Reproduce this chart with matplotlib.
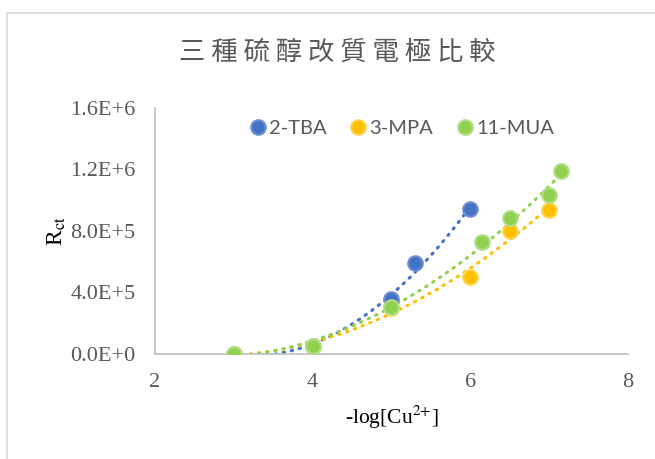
import numpy as np
import matplotlib
matplotlib.use("Agg")
import matplotlib.pyplot as plt
from matplotlib.lines import Line2D
from matplotlib.patches import Rectangle

# data
tba_x = [3, 4, 5, 5.3, 6]
tba_y = [0, 0.05e6, 0.355e6, 0.59e6, 0.94e6]
mpa_x = [3, 4, 5, 6, 6.5, 7]
mpa_y = [0, 0.05e6, 0.30e6, 0.503e6, 0.80e6, 0.937e6]
mua_x = [3, 4, 5, 6.15, 6.5, 7, 7.15]
mua_y = [0, 0.052e6, 0.304e6, 0.727e6, 0.883e6, 1.034e6, 1.19e6]
series_names = ["2-TBA", "3-MPA", "11-MUA"]
colors = ["#4472C4", "#FFC000", "#92D050"]
edge_colors = ["#6F8FD0", "#FFD34D", "#B0DE85"]
x_ticks = [2, 4, 6, 8]
y_ticks = [0, 0.4e6, 0.8e6, 1.2e6, 1.6e6]
y_tick_labels = ["0.0E+0", "4.0E+5", "8.0E+5", "1.2E+6", "1.6E+6"]
title = "三種硫醇改質電極比較"

plt.rcParams['mathtext.fontset'] = 'stix'

fig = plt.figure(figsize=(6.55, 4.59), dpi=100)
ax = fig.add_axes([0.2366, 0.2288, 0.7222, 0.5359])

# chart frame
fig.patches.append(Rectangle((7 / 655, -0.1), 1.2, 1 - 13 / 459 + 0.1,
                             transform=fig.transFigure, fill=False,
                             edgecolor="#D9D9D9", linewidth=1.2, zorder=0))

all_x = [tba_x, mpa_x, mua_x]
all_y = [tba_y, mpa_y, mua_y]

# second order polynomial trendlines (dotted)
for xs, ys, c in zip(all_x, all_y, colors):
    coef = np.polyfit(xs, ys, 2)
    xx = np.linspace(min(xs), max(xs), 200)
    ax.plot(xx, np.polyval(coef, xx), color=c, linewidth=2.2,
            linestyle=(0, (0.5, 2.2)), dash_capstyle="round", zorder=2)

for xs, ys, c, ec in zip(all_x, all_y, colors, edge_colors):
    ax.plot(xs, ys, linestyle="none", marker="o", markersize=10.5,
            markerfacecolor=c, markeredgecolor=ec, markeredgewidth=1.5, zorder=3)

ax.set_xlim(2, 8)
ax.set_ylim(0, 1.6e6)
ax.set_xticks(x_ticks)
ax.set_yticks(y_ticks)
ax.set_yticklabels(y_tick_labels)
ax.tick_params(length=0, pad=14, labelsize=16, labelcolor="#595959")
for lab in ax.get_xticklabels() + ax.get_yticklabels():
    lab.set_fontfamily("Liberation Serif")

for s in ["top", "right"]:
    ax.spines[s].set_visible(False)
for s in ["left", "bottom"]:
    ax.spines[s].set_color("#BFBFBF")
    ax.spines[s].set_linewidth(1.2)

ax.set_ylabel(r"R$_{\mathrm{ct}}$", fontsize=17, fontfamily="Liberation Serif", labelpad=2)
ax.set_xlabel(r"-log[Cu$^{\mathrm{2{+}}}$]", fontsize=15.5,
              fontfamily="Liberation Serif", labelpad=8)

fig.text(0.515, 1 - 52 / 459, " ".join(title), ha="center", va="center", fontsize=19,
         color="#595959", family=["Noto Sans CJK TC", "DejaVu Sans"])

handles = [Line2D([], [], linestyle="none", marker="o", markersize=10.5,
                  markerfacecolor=c, markeredgecolor=ec, markeredgewidth=1.5)
           for c, ec in zip(colors, edge_colors)]
leg = ax.legend(handles, series_names, loc="center", bbox_to_anchor=(0.52, 1 - 20 / 246),
                ncol=3, frameon=False, handletextpad=0.05, columnspacing=1.1,
                handlelength=1.0, prop={"family": "Lato", "size": 14.5})
for t in leg.get_texts():
    t.set_color("#595959")

fig.savefig("out.png", dpi=100)
